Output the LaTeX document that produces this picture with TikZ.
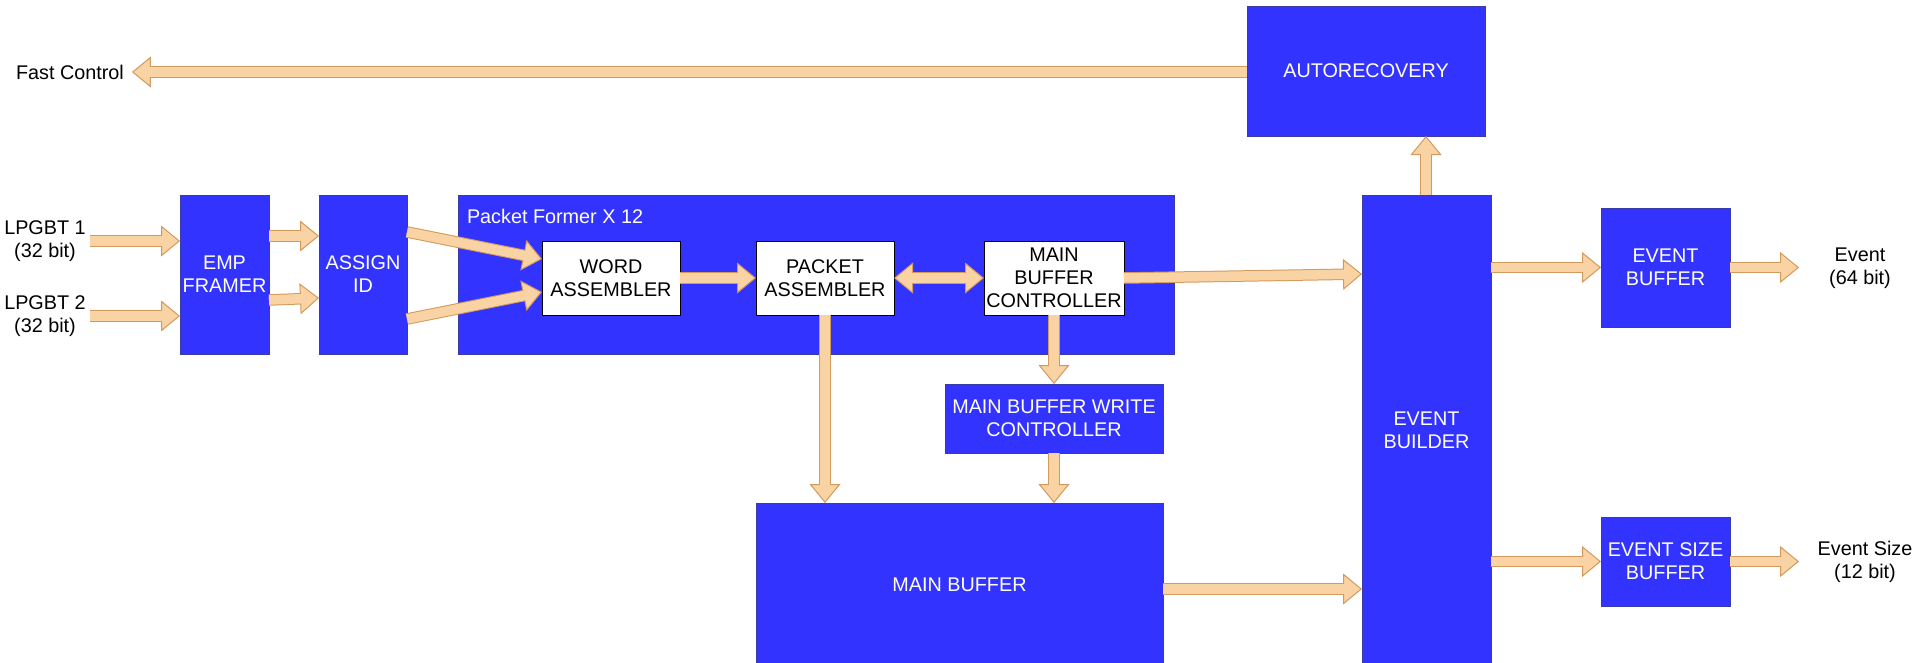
\documentclass[tikz,border=0pt]{standalone}
\usepackage{fontspec}
\setmainfont{Liberation Sans}
\usetikzlibrary{arrows.meta}
\definecolor{bfill}{HTML}{3333FF}
\definecolor{bedge}{HTML}{3A3AA8}
\definecolor{afill}{HTML}{FAD3A5}
\definecolor{aedge}{HTML}{D29A5C}
\tikzset{
  txt/.style={font=\fontsize{19.8}{23}\selectfont, align=center, inner sep=0pt, outer sep=0pt},
  blk/.style={txt, draw=bedge, fill=bfill, line width=0.8pt, text=white},
  wblk/.style={txt, draw=black, fill=white, line width=0.8pt, text=black},
  lbl/.style={txt, text=black},
  ashaft/.style={draw=aedge, line width=11.5pt, -{Triangle[length=19pt,width=31pt,line width=1pt,fill=afill,color=aedge]}},
  ainner/.style={draw=afill, line width=9.5pt, shorten >=17pt},
  dshaft/.style={draw=aedge, line width=11.5pt, {Triangle[length=19pt,width=31pt,line width=1pt,fill=afill,color=aedge]}-{Triangle[length=19pt,width=31pt,line width=1pt,fill=afill,color=aedge]}},
  dinner/.style={draw=afill, line width=9.5pt, shorten >=17pt, shorten <=17pt},
}
\newcommand\barrow[2]{\draw[ashaft] #1 -- #2; \draw[ainner] #1 -- #2;}
\newcommand\dbarrow[2]{\draw[dshaft] #1 -- #2; \draw[dinner] #1 -- #2;}
\begin{document}
\begin{tikzpicture}[x=1pt,y=-1pt]
\useasboundingbox (0,0) rectangle (1915,662);
% blocks
\node[blk, minimum width=238pt, minimum height=130pt] (auto) at (1366,71) {AUTORECOVERY};
\node[blk, minimum width=89pt, minimum height=159pt] (emp) at (224.5,274.5) {EMP\\FRAMER};
\node[blk, minimum width=88pt, minimum height=159pt] (assign) at (363,274.5) {ASSIGN\\ID};
\node[blk, minimum width=716pt, minimum height=159pt] (pf) at (816,274.5) {};
\node[lbl, text=white, anchor=west] (pflbl) at (467,216) {Packet Former X 12};
\node[wblk, minimum width=138pt, minimum height=74pt] (word) at (611,278) {WORD\\ASSEMBLER};
\node[wblk, minimum width=138pt, minimum height=74pt] (packet) at (825,278) {PACKET\\ASSEMBLER};
\node[wblk, minimum width=140pt, minimum height=74pt] (mbc) at (1054,278) {MAIN\\BUFFER\\CONTROLLER};
\node[blk, minimum width=218pt, minimum height=69pt] (mbwc) at (1054,418.5) {MAIN BUFFER WRITE\\CONTROLLER};
\node[blk, minimum width=407pt, minimum height=165pt] (mainbuf) at (959.5,585.5) {};
\node[txt, text=white] (mainbuflbl) at (959.5,585) {MAIN BUFFER};
\node[blk, minimum width=129pt, minimum height=475pt] (eb) at (1426.5,432.5) {};
\node[txt, text=white] (eblbl) at (1426.5,430) {EVENT\\BUILDER};
\node[blk, minimum width=129pt, minimum height=119pt] (evbuf) at (1665.5,267.5) {EVENT\\BUFFER};
\node[blk, minimum width=129pt, minimum height=89pt] (evsize) at (1665.5,561.5) {EVENT SIZE\\BUFFER};
% labels
\node[lbl] (fc) at (70,72) {Fast Control};
\node[lbl] (lp1) at (45,241) {LPGBT 1\\(32 bit)};
\node[lbl] (lp2) at (45,316) {LPGBT 2\\(32 bit)};
\node[lbl] (ev) at (1860,268) {Event\\(64 bit)};
\node[lbl] (evs) at (1865,562) {Event Size\\(12 bit)};
% arrows
\barrow{(auto.west |- 0,72)}{([xshift=8pt]fc.east)}
\barrow{([xshift=4pt]lp1.east)}{(emp.west |- lp1.east)}
\barrow{([xshift=4pt]lp2.east)}{(emp.west |- lp2.east)}
\barrow{(emp.east |- 0,236)}{(assign.west |- 0,236)}
\barrow{(emp.east |- 0,300)}{(assign.west |- 0,298)}
\barrow{(assign.east |- 0,232)}{(word.west |- 0,259)}
\barrow{(assign.east |- 0,319)}{(word.west |- 0,292)}
\barrow{(word.east)}{(packet.west)}
\dbarrow{(packet.east)}{(mbc.west)}
\barrow{(mbc.east)}{(eb.west |- 0,274)}
\barrow{(packet.south)}{(mainbuf.north -| packet.south)}
\barrow{(mbc.south)}{(mbwc.north)}
\barrow{(mbwc.south)}{(mainbuf.north -| mbwc.south)}
\barrow{(mainbuf.east |- 0,589)}{(eb.west |- 0,589)}
\barrow{(eb.north -| 1426,0)}{(auto.south -| 1426,0)}
\barrow{(eb.east |- evbuf.west)}{(evbuf.west)}
\barrow{(evbuf.east)}{([xshift=69pt]evbuf.east)}
\barrow{(eb.east |- evsize.west)}{(evsize.west)}
\barrow{(evsize.east)}{([xshift=69pt]evsize.east)}
\end{tikzpicture}
\end{document}
